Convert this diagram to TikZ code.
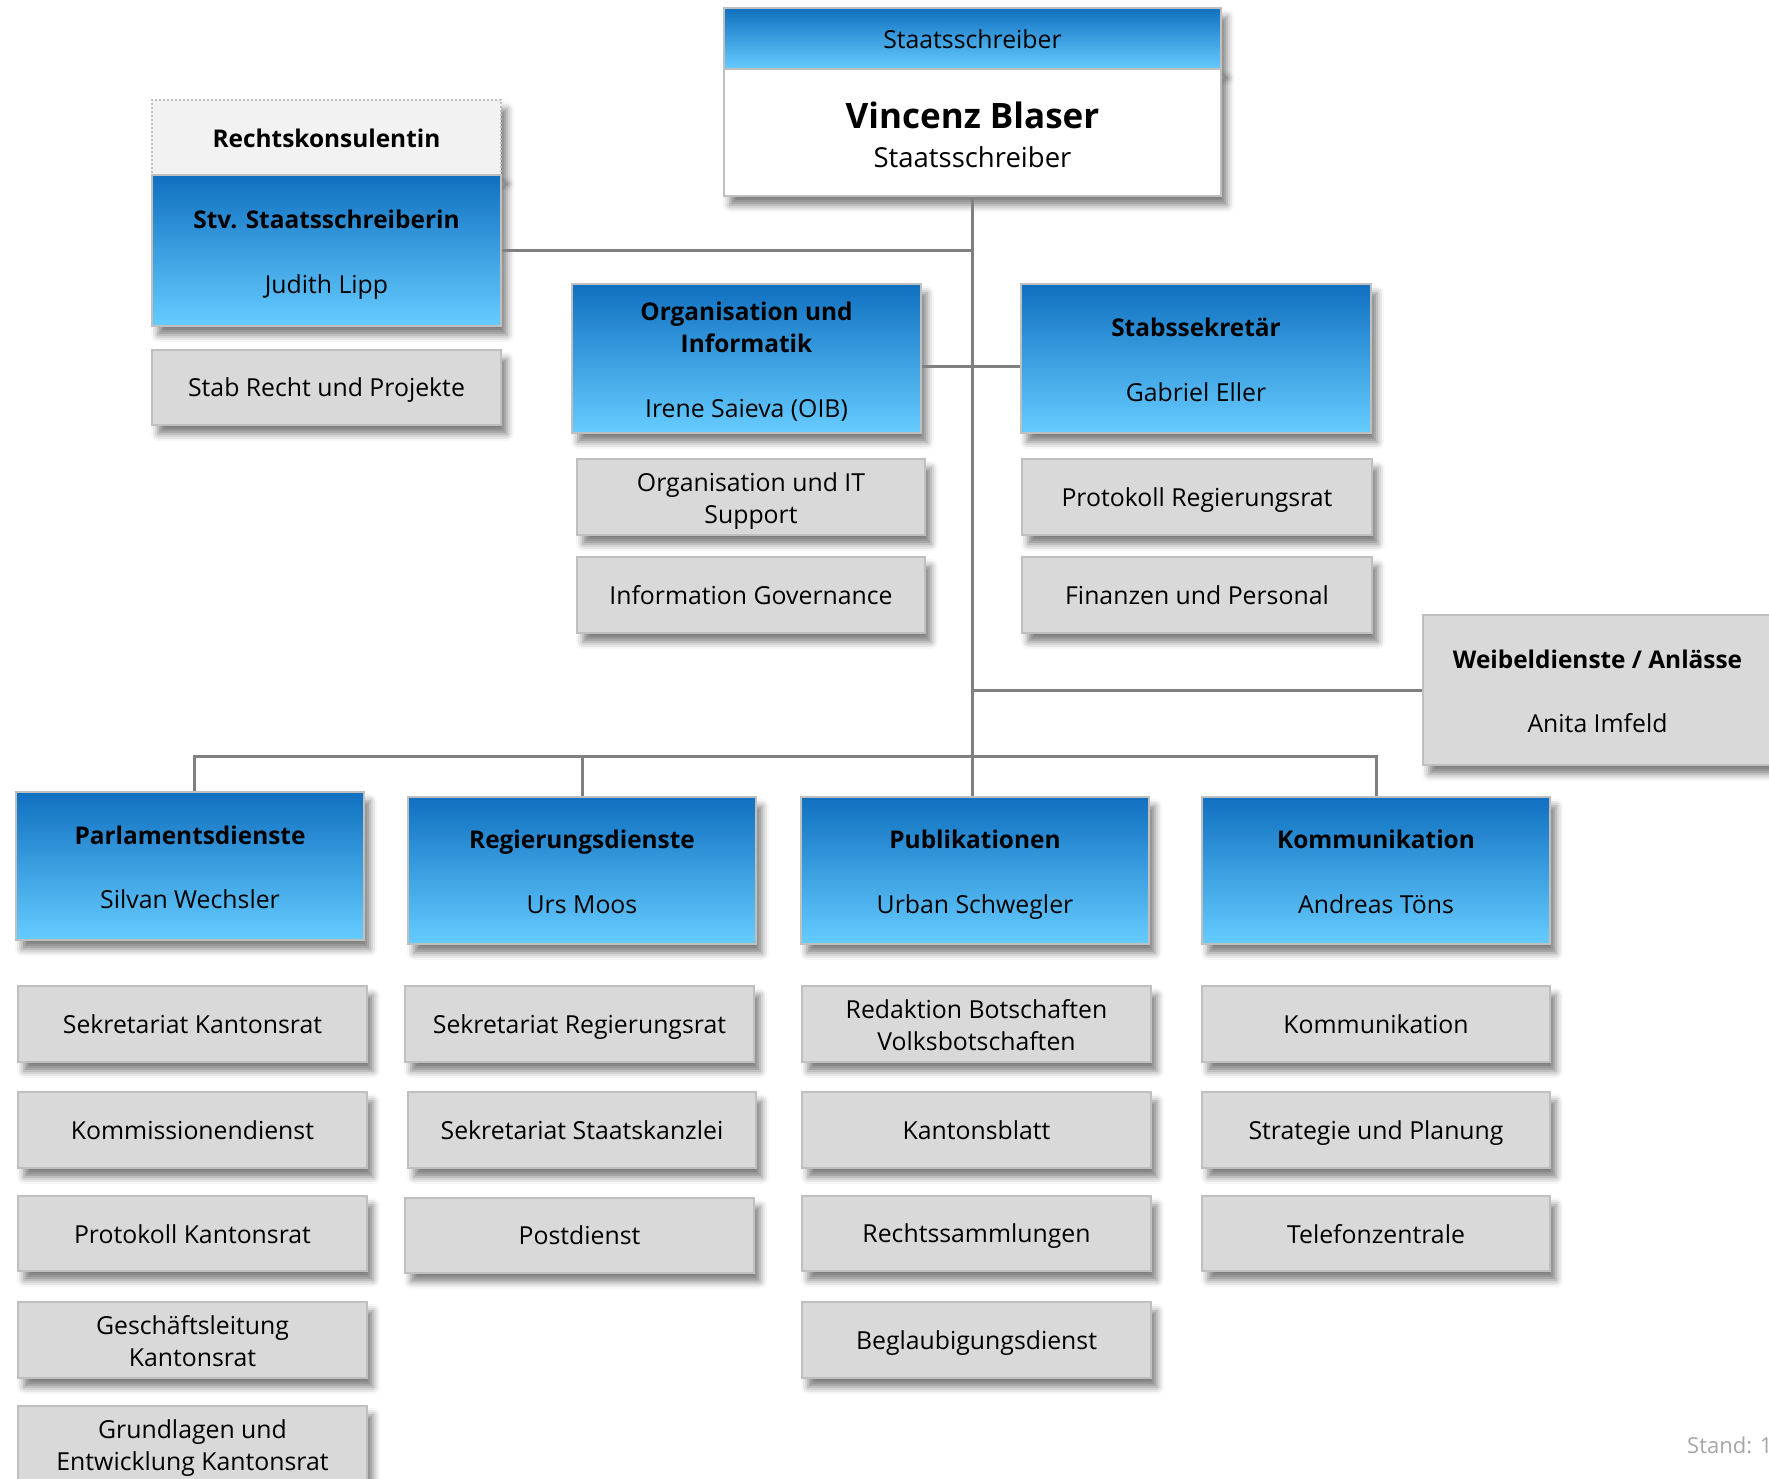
\documentclass[tikz,border=0pt]{standalone}
\usepackage{fontspec}
\setmainfont{Open Sans}
\usetikzlibrary{shadows.blur}
\definecolor{bdark}{RGB}{16,112,192}
\definecolor{blight}{RGB}{102,204,255}
\definecolor{gfill}{RGB}{217,217,217}
\definecolor{gborder}{RGB}{191,191,191}
\definecolor{hfill}{RGB}{242,242,242}
\definecolor{linec}{RGB}{128,128,128}
\definecolor{standc}{RGB}{166,166,166}
\newcommand{\gtop}{\rule{0pt}{24pt}}
\newcommand{\gbot}{\rule[-4.2pt]{0pt}{4.2pt}}
\newcommand{\bs}{\rule{0pt}{26.5pt}}
\newcommand{\bbot}{\rule[-6pt]{0pt}{6pt}}
\tikzset{
  shadowed/.style={blur shadow={shadow xshift=6pt, shadow yshift=-9pt, shadow blur radius=7pt, shadow opacity=50}},
  base/.style={rectangle, inner sep=0pt, align=center, line width=2pt, draw=gborder, font=\fontsize{24.8}{32.5}\selectfont},
  onestrut/.style={execute at begin node=\gtop, execute at end node=\gbot},
  twostrut/.style={execute at end node=\bbot},
  bluebox/.style={base, shadowed, top color=bdark, bottom color=blight, twostrut},
  greybox/.style={base, shadowed, fill=gfill, onestrut},
  greytwo/.style={base, shadowed, fill=gfill, twostrut},
  conn/.style={draw=linec, line width=3pt},
}
\newcommand{\bt}[2]{{\fontsize{24.4}{32.5}\selectfont\bfseries\bs #1}\\[32pt]#2}
\begin{document}
\begin{tikzpicture}[x=1pt,y=-1pt]
\useasboundingbox (0,0) rectangle (1769,1478);

\coordinate (bus) at (972.5,756);

% top box
\node[base, shadowed, top color=bdark, bottom color=blight, onestrut, minimum width=497pt, minimum height=61pt] (toph) at (972.5,38.5) {Staatsschreiber};
\node[base, shadowed, fill=white, minimum width=497pt, minimum height=127pt] (topw) at (972.5,132.5) {};
\node[align=center, inner sep=0pt, font=\fontsize{27.5}{39.5}\selectfont] (topname) at (972.5,135) {{\fontsize{35}{39.5}\selectfont\bfseries Vincenz Blaser}\\Staatsschreiber};

% Rechtskonsulentin / Stv
\node[base, shadowed, onestrut, fill=hfill, draw=gborder, dotted, minimum width=349pt, minimum height=75pt] (rechtsh) at (326.5,137.5) {\fontsize{24.4}{32.5}\selectfont\bfseries Rechtskonsulentin};
\node[bluebox, minimum width=349pt, minimum height=151pt] (stv) at (326.5,250.5) {\bt{Stv. Staatsschreiberin}{Judith Lipp}};
\node[greybox, minimum width=349pt, minimum height=75pt] (stabr) at (326.5,387.5) {Stab Recht und Projekte};

% Org / Stabssekretaer
\node[bluebox, minimum width=349pt, minimum height=149pt] (org) at (746.5,358.5) {{\fontsize{24.4}{32.5}\selectfont\bfseries\bs Organisation und}\\{\fontsize{24.4}{32.5}\selectfont\bfseries Informatik}\\[32pt]Irene Saieva (OIB)};
\node[bluebox, minimum width=350pt, minimum height=149pt] (stabs) at (1196,358.5) {\bt{Stabssekretär}{Gabriel Eller}};
\node[greytwo, minimum width=348pt, minimum height=76pt] (orgit) at (751,497) {\bs Organisation und IT\\Support};
\node[greybox, minimum width=348pt, minimum height=76pt] (infog) at (751,595) {Information Governance};
\node[greybox, minimum width=350pt, minimum height=76pt] (protrr) at (1197,497) {Protokoll Regierungsrat};
\node[greybox, minimum width=350pt, minimum height=76pt] (finp) at (1197,595) {Finanzen und Personal};

% Weibeldienste
\node[greytwo, minimum width=349pt, minimum height=150pt] (weibel) at (1597.5,690) {\bt{Weibeldienste / Anlässe}{Anita Imfeld}};

% departments
\node[bluebox, minimum width=348pt, minimum height=148pt] (parl) at (190,866) {\bt{Parlamentsdienste}{Silvan Wechsler}};
\node[bluebox, minimum width=348pt, minimum height=147pt] (reg) at (582,870.5) {\bt{Regierungsdienste}{Urs Moos}};
\node[bluebox, minimum width=348pt, minimum height=147pt] (pub) at (975,870.5) {\bt{Publikationen}{Urban Schwegler}};
\node[bluebox, minimum width=348pt, minimum height=147pt] (kom) at (1376,870.5) {\bt{Kommunikation}{Andreas Töns}};

% column 1
\node[greybox, minimum width=349pt, minimum height=76pt] (s11) at (192.5,1024) {Sekretariat Kantonsrat};
\node[greybox, minimum width=349pt, minimum height=76pt] (s12) at (192.5,1130) {Kommissionendienst};
\node[greybox, minimum width=349pt, minimum height=75pt] (s13) at (192.5,1233.5) {Protokoll Kantonsrat};
\node[greytwo, minimum width=349pt, minimum height=76pt] (s14) at (192.5,1340) {\bs Geschäftsleitung\\Kantonsrat};
\node[greytwo, minimum width=349pt, minimum height=76pt] (s15) at (192.5,1444) {\bs Grundlagen und\\Entwicklung Kantonsrat};
% column 2
\node[greybox, minimum width=349pt, minimum height=76pt] (s21) at (579.5,1024) {Sekretariat Regierungsrat};
\node[greybox, minimum width=348pt, minimum height=76pt] (s22) at (582,1130) {Sekretariat Staatskanzlei};
\node[greybox, minimum width=349pt, minimum height=75pt] (s23) at (579.5,1235) {Postdienst};
% column 3
\node[greytwo, minimum width=349pt, minimum height=76pt] (s31) at (976.5,1024) {\bs Redaktion Botschaften\\Volksbotschaften};
\node[greybox, minimum width=349pt, minimum height=76pt] (s32) at (976.5,1130) {Kantonsblatt};
\node[greybox, minimum width=349pt, minimum height=75pt] (s33) at (976.5,1233.5) {Rechtssammlungen};
\node[greybox, minimum width=349pt, minimum height=76pt] (s34) at (976.5,1340) {Beglaubigungsdienst};
% column 4
\node[greybox, minimum width=348pt, minimum height=76pt] (s41) at (1376,1024) {Kommunikation};
\node[greybox, minimum width=348pt, minimum height=76pt] (s42) at (1376,1130) {Strategie und Planung};
\node[greybox, minimum width=348pt, minimum height=75pt] (s43) at (1376,1233.5) {Telefonzentrale};

% connectors
\draw[conn] (topw.south) -- (bus);
\draw[conn] (stv.east) -- (stv.east -| topw.south);
\draw[conn] ([yshift=-8pt]org.east) -- ([yshift=-8pt]stabs.west);
\draw[conn] (weibel.west -| topw.south) -- (weibel.west);
\draw[conn] ([xshift=4pt]parl.north) -- ([xshift=4pt]parl.north |- bus) -- (kom.north |- bus) -- (kom.north);
\draw[conn] (reg.north) -- (reg.north |- bus);
\draw[conn] (pub.north -| bus) -- (bus);

% Stand
\node[anchor=west, text=standc, font=\fontsize{22}{26}\selectfont, inner sep=0pt] (stand) at (1687,1445) {Stand: 1};
\end{tikzpicture}
\end{document}
